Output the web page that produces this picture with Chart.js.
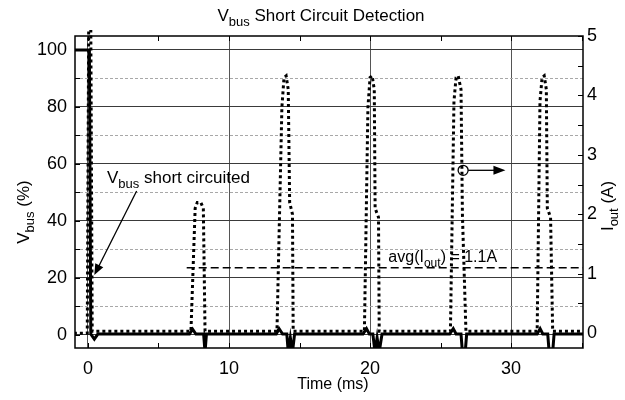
<!DOCTYPE html>
<html>
<head>
<meta charset="utf-8">
<script src="https://cdn.jsdelivr.net/npm/chart.js@4/dist/chart.umd.min.js"></script>
<style>
  html, body { margin: 0; padding: 0; background: #fff; }
  canvas { display: block; }
</style>
</head>
<body>
<canvas id="scope" width="625" height="400"></canvas>
<script>
// =========================
// DATA (read off the capture)
// =========================

const timeTicks = [0, 10, 20, 30];
const vbusTicks = [0, 20, 40, 60, 80, 100];
const ioutTicks = [0, 1, 2, 3, 4, 5];

// Vbus (%) - solid trace
const vbusTime = [
    -1, 0.1, 0.2, 0.45, 0.7,
    7.2, 7.42, 7.65, 8.2, 8.3, 8.4,
    13.35, 13.55, 13.8, 14.1, 14.2, 14.35, 14.5, 14.65,
    19.5, 19.75, 19.95, 20.2, 20.35, 20.5, 20.65, 20.85,
    25.65, 25.9, 26.1, 26.45, 26.55, 26.75, 26.85,
    31.85, 32.06, 32.25, 32.6, 32.7, 32.95, 33.05,
    35.5
];
const vbusValue = [
    100, 100, 0.3, -1.5, 0.3,
    0.3, 2, 0.3, 0.3, -6, 0.3,
    0.3, 2.2, 0.3, 0.3, -6, -1, -6, 0.3,
    0.3, 2.2, 0.3, 0.3, -6, -1, -6, 0.3,
    0.3, 2.2, 0.3, 0.3, -6, -6, 0.3,
    0.3, 2.2, 0.3, 0.3, -6, -6, 0.3,
    0.3
];

// Iout (A) - dotted trace
const ioutTime = [
    -1, -0.05, 0.05, 0.2, 0.3,
    7.3, 7.6, 7.75, 8.0, 8.18, 8.3,
    13.4, 13.75, 13.9, 14.05, 14.2, 14.3, 14.5, 14.55,
    19.6, 19.85, 20.0, 20.15, 20.3, 20.36, 20.6, 20.65,
    25.7, 25.95, 26.1, 26.25, 26.45, 26.55, 26.8,
    31.85, 32.05, 32.2, 32.35, 32.5, 32.57, 32.8, 32.95,
    35.5
];
const ioutValue = [
    0, 0, 5.15, 5.15, 0.03,
    0.03, 2.1, 2.2, 2.2, 2.1, 0.03,
    0.03, 3.8, 4.3, 4.33, 4.1, 2.2, 2.0, 0.03,
    0.03, 3.8, 4.3, 4.33, 4.1, 2.1, 1.95, 0.03,
    0.03, 3.9, 4.3, 4.33, 4.1, 2.0, 0.03,
    0.03, 3.9, 4.3, 4.33, 4.1, 2.1, 1.95, 0.03,
    0.03
];

// avg(Iout) marker
const avgTime = [7, 35.5];
const avgValue = [1.1, 1.1];

const pts = (xs, ys) => xs.map((x, i) => ({ x: x, y: ys[i] }));

const FONT = "'Liberation Sans', Arial, Helvetica, sans-serif";


// =========================
// HELPERS
// =========================

// text with subscripts: parts = [[text, isSub], ...]
function richText(ctx, parts, x, y, size, align) {
    const sub = Math.round(size * 0.74);
    const widths = parts.map(p => {
        ctx.font = (p[1] ? sub : size) + "px " + FONT;
        return ctx.measureText(p[0]).width;
    });
    const total = widths.reduce((a, b) => a + b, 0);
    let cx = align === "center" ? x - total / 2 : x;
    ctx.textAlign = "left";
    ctx.textBaseline = "alphabetic";
    parts.forEach((p, i) => {
        ctx.font = (p[1] ? sub : size) + "px " + FONT;
        ctx.fillText(p[0], cx, p[1] ? y + size * 0.3 : y);
        cx += widths[i];
    });
}

function arrow(ctx, x1, y1, x2, y2, len, half) {
    const ang = Math.atan2(y2 - y1, x2 - x1);
    ctx.beginPath();
    ctx.moveTo(x1, y1);
    ctx.lineTo(x2 - Math.cos(ang) * len * 0.8, y2 - Math.sin(ang) * len * 0.8);
    ctx.stroke();
    ctx.beginPath();
    ctx.moveTo(x2, y2);
    ctx.lineTo(x2 - Math.cos(ang) * len - Math.sin(ang) * half, y2 - Math.sin(ang) * len + Math.cos(ang) * half);
    ctx.lineTo(x2 - Math.cos(ang) * len + Math.sin(ang) * half, y2 - Math.sin(ang) * len - Math.cos(ang) * half);
    ctx.closePath();
    ctx.fill();
}


// =========================
// FRAME / LABELS PLUGIN
// =========================

const scopeFrame = {
    id: "scopeFrame",

    beforeDatasetsDraw(chart) {
        const { ctx, chartArea: a, scales } = chart;
        ctx.save();
        ctx.strokeStyle = "#a8a8a8";
        ctx.lineWidth = 1;
        ctx.setLineDash([3, 2]);
        for (let v = 10; v < 100; v += 20) {
            const py = Math.round(scales.y.getPixelForValue(v)) + 0.5;
            ctx.beginPath();
            ctx.moveTo(a.left, py);
            ctx.lineTo(a.right, py);
            ctx.stroke();
        }
        ctx.restore();
    },

    afterDatasetsDraw(chart) {
        const { ctx, chartArea: a, scales } = chart;
        const x = scales.x, y = scales.y, y2 = scales.y2;
        ctx.save();

        // frame
        ctx.strokeStyle = "#000";
        ctx.lineWidth = 1.5;
        ctx.strokeRect(a.left, a.top, a.right - a.left, a.bottom - a.top);

        // inward tick marks
        ctx.lineWidth = 1;
        ctx.beginPath();
        for (let t = 0; t <= 35; t += 5) {
            const px = Math.round(x.getPixelForValue(t)) + 0.5;
            ctx.moveTo(px, a.bottom); ctx.lineTo(px, a.bottom - 5);
            ctx.moveTo(px, a.top); ctx.lineTo(px, a.top + 5);
        }
        for (let v = 0; v <= 100; v += 10) {
            const py = Math.round(y.getPixelForValue(v)) + 0.5;
            ctx.moveTo(a.left, py); ctx.lineTo(a.left + 5, py);
        }
        for (let v = 0; v <= 5; v += 0.5) {
            const py = Math.round(y2.getPixelForValue(v)) + 0.5;
            ctx.moveTo(a.right, py); ctx.lineTo(a.right - 5, py);
        }
        ctx.stroke();

        // annotations
        ctx.fillStyle = "#000";
        ctx.strokeStyle = "#000";
        ctx.lineWidth = 1.3;

        richText(ctx, [["V", false], ["bus", true], [" short circuited", false]],
            x.getPixelForValue(1.35), y.getPixelForValue(53.3), 17, "left");
        arrow(ctx, x.getPixelForValue(3.45), y.getPixelForValue(50.5),
            x.getPixelForValue(0.45), y.getPixelForValue(21), 11, 4.5);

        const cx = x.getPixelForValue(26.6), cy = y2.getPixelForValue(2.74);
        ctx.beginPath();
        ctx.arc(cx, cy, 5, 0, Math.PI * 2);
        ctx.stroke();
        arrow(ctx, cx + 5, cy, x.getPixelForValue(29.6), cy, 12, 4.5);

        richText(ctx, [["avg(I", false], ["out", true], [") = 1.1A", false]],
            x.getPixelForValue(21.3), y2.getPixelForValue(1.2), 16, "left");

        ctx.restore();
    },

    afterDraw(chart) {
        const { ctx, chartArea: a } = chart;
        ctx.save();
        ctx.fillStyle = "#000";

        // title
        richText(ctx, [["V", false], ["bus", true], [" Short Circuit Detection", false]],
            321, 21, 17, "center");

        // x title
        richText(ctx, [["Time (ms)", false]], (a.left + a.right) / 2 + 4, 389, 16, "center");

        // left title
        ctx.save();
        ctx.translate(29, 212);
        ctx.rotate(-Math.PI / 2);
        richText(ctx, [["V", false], ["bus", true], [" (%)", false]], 0, 0, 17, "center");
        ctx.restore();

        // right title
        ctx.save();
        ctx.translate(613, 206);
        ctx.rotate(-Math.PI / 2);
        richText(ctx, [["I", false], ["out", true], [" (A)", false]], 0, 0, 17, "center");
        ctx.restore();

        ctx.restore();
    }
};


// =========================
// CHART
// =========================

new Chart(document.getElementById("scope"), {

    type: "line",

    data: {
        datasets: [
            {
                label: "Vbus",
                data: pts(vbusTime, vbusValue),
                yAxisID: "y",
                borderColor: "#000",
                borderWidth: 3,
                pointRadius: 0,
                tension: 0
            },
            {
                label: "Iout",
                data: pts(ioutTime, ioutValue),
                yAxisID: "y2",
                borderColor: "#000",
                borderWidth: 3,
                borderDash: [3, 3],
                pointRadius: 0,
                tension: 0,
                clip: { left: 0, right: 0, bottom: 0, top: 6 }
            },
            {
                label: "avg",
                data: pts(avgTime, avgValue),
                yAxisID: "y2",
                borderColor: "#000",
                borderWidth: 1.6,
                borderDash: [8, 4],
                pointRadius: 0
            }
        ]
    },

    options: {

        responsive: false,
        animation: false,
        events: [],

        layout: {
            padding: { top: 36, left: 0, right: 0, bottom: 0 }
        },

        plugins: {
            legend: { display: false },
            tooltip: { enabled: false }
        },

        scales: {

            x: {
                type: "linear",
                min: -0.92,
                max: 35.1,
                afterFit: s => { s.height = 52; },
                afterBuildTicks: s => { s.ticks = timeTicks.map(v => ({ value: v })); },
                ticks: {
                    color: "#000",
                    padding: 10,
                    font: { family: FONT, size: 18 }
                },
                grid: {
                    color: "#555",
                    lineWidth: 1,
                    drawTicks: false
                },
                border: { display: false }
            },

            y: {
                position: "left",
                min: -4.6,
                max: 104.9,
                afterFit: s => { s.width = 75; },
                afterBuildTicks: s => { s.ticks = vbusTicks.map(v => ({ value: v })); },
                ticks: {
                    color: "#000",
                    padding: 8,
                    font: { family: FONT, size: 18 }
                },
                grid: {
                    color: "#3a3a3a",
                    lineWidth: 1,
                    drawTicks: false
                },
                border: { display: false }
            },

            y2: {
                position: "right",
                min: -0.25,
                max: 5,
                afterFit: s => { s.width = 42; },
                afterBuildTicks: s => { s.ticks = ioutTicks.map(v => ({ value: v })); },
                ticks: {
                    color: "#000",
                    padding: 4,
                    font: { family: FONT, size: 18 }
                },
                grid: {
                    drawOnChartArea: false,
                    drawTicks: false
                },
                border: { display: false }
            }

        }

    },

    plugins: [scopeFrame]

});
</script>
</body>
</html>
